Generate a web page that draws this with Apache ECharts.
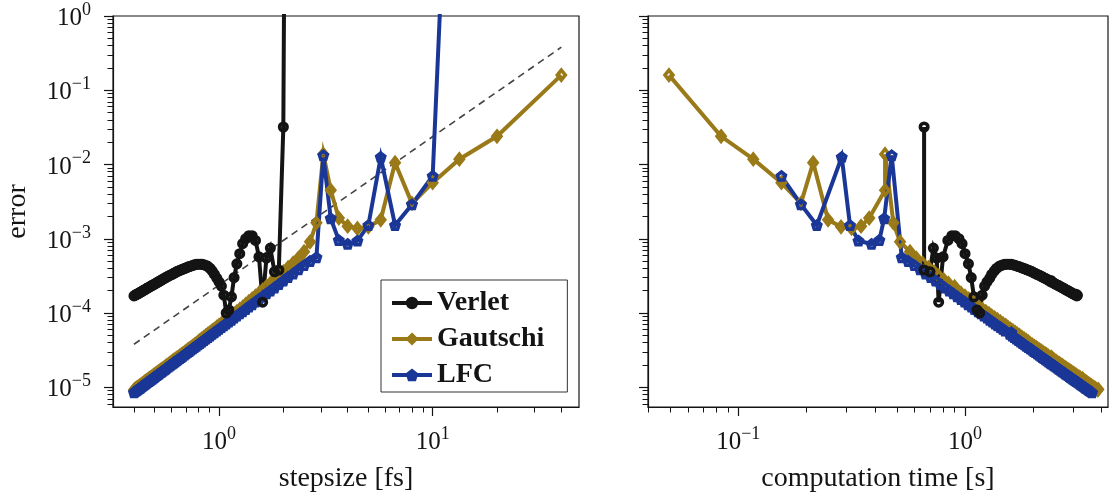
<!DOCTYPE html>
<html><head><meta charset="utf-8">
<script src="https://cdn.jsdelivr.net/npm/echarts@6/dist/echarts.min.js"></script>
<style>html,body{margin:0;padding:0;background:#fff}#c{width:1110px;height:500px}</style>
</head><body><div id="c"></div>
<script>
// ---- data (index i corresponds to run i+1) ----
const stepsize = [
  40, 20, 13.33, 10, 8, 6.667, 5.714, 5, 4.444, 4,
  3.636, 3.333, 3.077, 2.857, 2.667, 2.5, 2.353, 2.222, 2.105, 2,
  1.905, 1.818, 1.739, 1.667, 1.6, 1.538, 1.481, 1.429, 1.379, 1.333,
  1.29, 1.25, 1.212, 1.176, 1.143, 1.111, 1.081, 1.053, 1.026, 1,
  0.976, 0.952, 0.93, 0.909, 0.889, 0.87, 0.851, 0.833, 0.816, 0.8,
  0.784, 0.769, 0.755, 0.741, 0.727, 0.714, 0.702, 0.69, 0.678, 0.667,
  0.656, 0.645, 0.635, 0.625, 0.615, 0.606, 0.597, 0.588, 0.58, 0.571,
  0.563, 0.556, 0.548, 0.541, 0.533, 0.526, 0.519, 0.513, 0.506, 0.5,
  0.494, 0.488, 0.482, 0.476, 0.471, 0.465, 0.46, 0.455, 0.449, 0.444,
  0.44, 0.435, 0.43, 0.426, 0.421, 0.417, 0.412, 0.408, 0.404, 0.4
];
const verletErr = [
  null, null, null, null, null, null, null, null, null, null,
  null, null, null, null, null, null, null, null, 1e10, 0.032,
  3.8e-4, 3.6e-4, 7.5e-4, 5.5e-4, 1.4e-4, 5.7e-4, 9.5e-4, 1.1e-3, 1.1e-3, 1.0e-3,
  8.6e-4, 6.3e-4, 4.6e-4, 3.0e-4, 1.65e-4, 1.1e-4, 1.0e-4, 1.74e-4, 2.3e-4, 2.63e-4,
  2.95e-4, 3.31e-4, 3.67e-4, 3.98e-4, 4.22e-4, 4.37e-4, 4.46e-4, 4.52e-4, 4.55e-4, 4.55e-4,
  4.52e-4, 4.46e-4, 4.38e-4, 4.31e-4, 4.23e-4, 4.15e-4, 4.07e-4, 3.98e-4, 3.9e-4, 3.82e-4,
  3.75e-4, 3.68e-4, 3.61e-4, 3.52e-4, 3.43e-4, 3.35e-4, 3.28e-4, 3.21e-4, 3.14e-4, 3.07e-4,
  3.0e-4, 2.94e-4, 2.88e-4, 2.81e-4, 2.74e-4, 2.68e-4, 2.62e-4, 2.57e-4, 2.51e-4, 2.46e-4,
  2.41e-4, 2.37e-4, 2.32e-4, 2.27e-4, 2.23e-4, 2.19e-4, 2.15e-4, 2.1e-4, 2.06e-4, 2.02e-4,
  1.99e-4, 1.95e-4, 1.92e-4, 1.88e-4, 1.85e-4, 1.82e-4, 1.79e-4, 1.76e-4, 1.73e-4, 1.70e-4
];
const gautschiErr = [
  0.16, 0.024, 0.0118, 0.0057, 0.003, 0.0106, 0.0018, 0.00145, 0.00138, 0.00148,
  0.0019, 0.0045, 0.0138, 0.00164, 9.1e-4, 6.7e-4, 5.5e-4, 4.7e-4, 4.1e-4, 3.6e-4,
  3.17e-4, 2.82e-4, 2.52e-4, 2.27e-4, 2.04e-4, 1.85e-4, 1.69e-4, 1.55e-4, 1.43e-4, 1.31e-4,
  1.2e-4, 1.12e-4, 1.05e-4, 9.8e-5, 9.2e-5, 8.65e-5, 8.15e-5, 7.65e-5, 7.2e-5, 6.85e-5,
  6.45e-5, 6.1e-5, 5.8e-5, 5.5e-5, 5.25e-5, 5.0e-5, 4.75e-5, 4.53e-5, 4.32e-5, 4.12e-5,
  3.9e-5, 3.75e-5, 3.6e-5, 3.46e-5, 3.32e-5, 3.2e-5, 3.08e-5, 2.96e-5, 2.85e-5, 2.75e-5,
  2.66e-5, 2.56e-5, 2.48e-5, 2.4e-5, 2.32e-5, 2.25e-5, 2.17e-5, 2.11e-5, 2.04e-5, 1.98e-5,
  1.91e-5, 1.86e-5, 1.8e-5, 1.75e-5, 1.71e-5, 1.65e-5, 1.61e-5, 1.57e-5, 1.52e-5, 1.48e-5,
  1.45e-5, 1.4e-5, 1.37e-5, 1.34e-5, 1.31e-5, 1.27e-5, 1.24e-5, 1.21e-5, 1.18e-5, 1.15e-5,
  1.12e-5, 1.1e-5, 1.07e-5, 1.05e-5, 1.02e-5, 1.0e-5, 9.8e-6, 9.6e-6, 9.4e-6, 9.2e-6
];
const lfcErr = [
  null, null, 1e6, 7.0e-3, 2.9e-3, 1.52e-3, 1.26e-2, 1.52e-3, 9.4e-4, 8.5e-4,
  9.6e-4, 1.88e-3, 1.33e-2, 5.6e-4, 5.0e-4, 4.4e-4, 3.85e-4, 3.4e-4, 3.05e-4, 2.72e-4,
  2.44e-4, 2.2e-4, 2.0e-4, 1.83e-4, 1.67e-4, 1.54e-4, 1.42e-4, 1.31e-4, 1.22e-4, 1.13e-4,
  1.05e-4, 9.85e-5, 9.2e-5, 8.64e-5, 8.1e-5, 7.64e-5, 7.21e-5, 6.8e-5, 6.43e-5, 6.1e-5,
  5.78e-5, 5.49e-5, 5.22e-5, 4.97e-5, 4.73e-5, 4.51e-5, 4.31e-5, 4.12e-5, 3.94e-5, 3.77e-5,
  3.61e-5, 3.47e-5, 3.33e-5, 3.2e-5, 3.07e-5, 2.96e-5, 2.85e-5, 2.74e-5, 2.64e-5, 2.55e-5,
  2.46e-5, 2.37e-5, 2.3e-5, 2.22e-5, 2.15e-5, 2.08e-5, 2.01e-5, 1.95e-5, 1.89e-5, 1.83e-5,
  1.77e-5, 1.72e-5, 1.67e-5, 1.62e-5, 1.58e-5, 1.53e-5, 1.49e-5, 1.45e-5, 1.41e-5, 1.37e-5,
  1.34e-5, 1.3e-5, 1.27e-5, 1.24e-5, 1.21e-5, 1.18e-5, 1.15e-5, 1.12e-5, 1.09e-5, 1.07e-5,
  1.04e-5, 1.02e-5, 9.9e-6, 9.7e-6, 9.5e-6, 9.3e-6, 9.1e-6, 8.9e-6, 8.7e-6, 8.5e-6
];
const verletTime = [
  null, null, null, null, null, null, null, null, null, null,
  null, null, null, null, null, null, null, null, null, 0.66,
  0.66, 0.70, 0.725, 0.75, 0.765, 0.80, 0.84, 0.875, 0.905, 0.94,
  0.97, 1.0, 1.035, 1.065, 1.095, 1.13, 1.16, 1.19, 1.22, 1.25,
  1.285, 1.31, 1.345, 1.375, 1.41, 1.44, 1.47, 1.5, 1.535, 1.565,
  1.6, 1.625, 1.66, 1.69, 1.72, 1.75, 1.785, 1.815, 1.85, 1.875,
  1.91, 1.94, 1.97, 2.0, 2.035, 2.065, 2.1, 2.13, 2.16, 2.19,
  2.22, 2.255, 2.285, 2.315, 2.39, 2.37, 2.41, 2.44, 2.475, 2.5,
  2.535, 2.565, 2.6, 2.63, 2.66, 2.69, 2.72, 2.755, 2.785, 2.815,
  2.85, 2.88, 2.91, 2.94, 2.97, 3.0, 3.09, 3.05, 3.13, 3.11
];
const gautschiTime = [
  0.0495, 0.084, 0.1165, 0.155, 0.189, 0.214, 0.249, 0.284, 0.316, 0.348,
  0.378, 0.444, 0.444, 0.483, 0.517, 0.572, 0.61, 0.65, 0.69, 0.73,
  0.765, 0.805, 0.845, 0.9, 0.89, 0.96, 1.0, 1.04, 1.08, 1.12,
  1.155, 1.195, 1.235, 1.275, 1.31, 1.35, 1.39, 1.43, 1.47, 1.51,
  1.545, 1.585, 1.625, 1.665, 1.7, 1.74, 1.78, 1.82, 1.86, 1.9,
  1.935, 1.975, 2.015, 2.055, 2.09, 2.13, 2.17, 2.21, 2.25, 2.29,
  2.325, 2.4, 2.38, 2.445, 2.48, 2.52, 2.56, 2.6, 2.64, 2.68,
  2.715, 2.755, 2.795, 2.835, 2.87, 2.91, 2.95, 2.99, 3.03, 3.07,
  3.105, 3.145, 3.185, 3.225, 3.3, 3.28, 3.34, 3.38, 3.42, 3.46,
  3.495, 3.535, 3.575, 3.615, 3.65, 3.69, 3.73, 3.77, 3.87, 3.84
];
const lfcTime = [
  null, null, null, 0.155, 0.189, 0.222, 0.286, 0.311, 0.339, 0.387,
  0.419, 0.44, 0.475, 0.526, 0.562, 0.598, 0.634, 0.67, 0.706, 0.742,
  0.778, 0.815, 0.851, 0.887, 0.923, 0.959, 0.995, 1.03, 1.067, 1.1,
  1.14, 1.175, 1.21, 1.25, 1.284, 1.32, 1.356, 1.39, 1.43, 1.465,
  1.5, 1.6, 1.573, 1.61, 1.645, 1.68, 1.717, 1.753, 1.79, 1.825,
  1.86, 1.897, 1.933, 1.97, 2.005, 2.04, 2.08, 2.113, 2.15, 2.185,
  2.22, 2.258, 2.294, 2.33, 2.366, 2.4, 2.438, 2.474, 2.51, 2.547,
  2.583, 2.62, 2.655, 2.69, 2.727, 2.763, 2.8, 2.835, 2.87, 2.908,
  2.944, 2.98, 3.016, 3.052, 3.088, 3.125, 3.16, 3.197, 3.233, 3.27,
  3.305, 3.34, 3.378, 3.414, 3.45, 3.486, 3.522, 3.558, 3.594, 3.63
];
// slope-2 reference line (two end points)
const refStep = [0.4, 40];
const refErr = [3.8e-5, 0.38];
// axis ticks
const yMajorTicks = [1e-5, 1e-4, 1e-3, 1e-2, 1e-1, 1];
const xMajorTicksLeft = [1, 10];
const xMajorTicksRight = [0.1, 1];
const yRange = [5.43e-6, 1];
const xRangeLeft = [0.319, 48.4];
const xRangeRight = [0.04, 4.27];

// ---- styling / helpers ----
const FONT = '"Liberation Serif", "DejaVu Serif", serif';
const GOLD = '#9a7a18';
const BLUE = '#1a3797';
const INK = '#141414';
const PENTAGON = 'path://M0,-1 L0.951,-0.309 L0.588,0.809 L-0.588,0.809 L-0.951,-0.309 Z';

function minorTicks(lo, hi) {
  const out = [];
  for (let k = Math.floor(Math.log10(lo)) - 1; k <= Math.ceil(Math.log10(hi)); k++) {
    for (let m = 2; m <= 9; m++) {
      const v = parseFloat((m * Math.pow(10, k)).toPrecision(6));
      if (v >= lo * 0.9999 && v <= hi * 1.0001) out.push(v);
    }
  }
  return out;
}
function supLabel(v) {
  const e = Math.round(Math.log10(v));
  return '{b|10}{s|' + (e < 0 ? '\u2212' + (-e) : String(e)) + '}';
}
const RICH = {
  b: {fontFamily: FONT, fontSize: 25, color: INK, lineHeight: 30, verticalAlign: 'bottom'},
  s: {fontFamily: FONT, fontSize: 18, color: INK, lineHeight: 16, verticalAlign: 'top'}
};
function pairs(xs, ys) {
  const out = [];
  for (let i = 0; i < xs.length; i++) {
    if (xs[i] != null && ys[i] != null) out.push([xs[i], ys[i]]);
  }
  return out;
}
function majorAxis(dim, gi, range, ticks, showLabels, name) {
  const a = {
    type: 'log', logBase: 10, gridIndex: gi, min: range[0], max: range[1],
    position: dim === 'x' ? 'bottom' : 'left',
    axisLine: {show: true, onZero: false, lineStyle: {color: INK, width: 1.2}},
    axisTick: {show: true, inside: false, length: 9, customValues: ticks, lineStyle: {color: INK, width: 1.2}},
    axisLabel: {show: showLabels, margin: dim === 'x' ? 18 : 22, customValues: ticks, formatter: supLabel, rich: RICH},
    splitLine: {show: false}, minorTick: {show: false}, minorSplitLine: {show: false}, silent: true
  };
  if (name) {
    a.name = name;
    a.nameLocation = 'middle';
    a.nameGap = dim === 'x' ? 58 : 81;
    a.nameTextStyle = {fontFamily: FONT, fontSize: 28, color: INK};
  }
  return a;
}
function minorAxis(dim, gi, range) {
  return {
    type: 'log', logBase: 10, gridIndex: gi, min: range[0], max: range[1],
    position: dim === 'x' ? 'bottom' : 'left',
    axisLine: {show: false, onZero: false},
    axisTick: {show: true, inside: false, length: 5.5, customValues: minorTicks(range[0], range[1]), lineStyle: {color: INK, width: 1}},
    axisLabel: {show: false},
    splitLine: {show: false}, minorTick: {show: false}, silent: true
  };
}
function methodSeries(name, data, axisIdx, color, symbol, size) {
  return {
    type: 'line', name, data, xAxisIndex: axisIdx, yAxisIndex: axisIdx,
    symbol, symbolSize: size, showSymbol: true, clip: true, animation: false,
    lineStyle: {color, width: 4, join: 'miter', miterLimit: 8},
    itemStyle: {color: 'rgba(255,255,255,0)', borderColor: color, borderWidth: 3.6},
    emphasis: {disabled: true}, silent: true
  };
}

const chart = echarts.init(document.getElementById('c'), null, {renderer: 'canvas'});
const gridBase = {show: true, borderColor: INK, borderWidth: 1.2, backgroundColor: 'rgba(0,0,0,0)', containLabel: false, outerBoundsMode: 'none'};
chart.setOption({
  animation: false,
  backgroundColor: '#ffffff',
  grid: [
    Object.assign({left: 113, top: 16, width: 466, height: 391}, gridBase),
    Object.assign({left: 648, top: 16, width: 460, height: 391}, gridBase)
  ],
  xAxis: [
    majorAxis('x', 0, xRangeLeft, xMajorTicksLeft, true, 'stepsize [fs]'),
    minorAxis('x', 0, xRangeLeft),
    majorAxis('x', 1, xRangeRight, xMajorTicksRight, true, 'computation time [s]'),
    minorAxis('x', 1, xRangeRight)
  ],
  yAxis: [
    majorAxis('y', 0, yRange, yMajorTicks, true, 'error'),
    minorAxis('y', 0, yRange),
    majorAxis('y', 1, yRange, yMajorTicks, false, null),
    minorAxis('y', 1, yRange)
  ],
  legend: {
    data: [
      {name: 'Verlet', itemStyle: {color: INK, borderColor: INK}, lineStyle: {color: INK, width: 4}},
      {name: 'Gautschi', itemStyle: {color: GOLD, borderColor: GOLD}, lineStyle: {color: GOLD, width: 4}},
      {name: 'LFC', itemStyle: {color: BLUE, borderColor: BLUE}, lineStyle: {color: BLUE, width: 4}}
    ],
    orient: 'vertical', left: 381, top: 280,
    padding: [9, 23, 3, 9], itemGap: 8, itemWidth: 40, itemHeight: 13,
    borderColor: '#333', borderWidth: 1, borderRadius: 0, backgroundColor: '#fff',
    textStyle: {fontFamily: FONT, fontWeight: 'bold', fontSize: 28, color: INK, lineHeight: 26},
    selectedMode: false, z: 20
  },
  series: [
    {type: 'line', name: 'ref', data: pairs(refStep, refErr), xAxisIndex: 0, yAxisIndex: 0,
     symbol: 'none', lineStyle: {color: '#444', width: 1.6, type: [7, 5]}, silent: true, z: 1},
    methodSeries('Gautschi', pairs(stepsize, gautschiErr), 0, GOLD, 'diamond', [8, 10]),
    methodSeries('LFC', pairs(stepsize, lfcErr), 0, BLUE, PENTAGON, 8),
    methodSeries('Verlet', pairs(stepsize, verletErr), 0, INK, 'circle', 7.5),
    methodSeries('Gautschi', pairs(gautschiTime, gautschiErr), 2, GOLD, 'diamond', [8, 10]),
    methodSeries('LFC', pairs(lfcTime, lfcErr), 2, BLUE, PENTAGON, 8),
    methodSeries('Verlet', pairs(verletTime, verletErr), 2, INK, 'circle', 7.5)
  ]
});
</script></body></html>
